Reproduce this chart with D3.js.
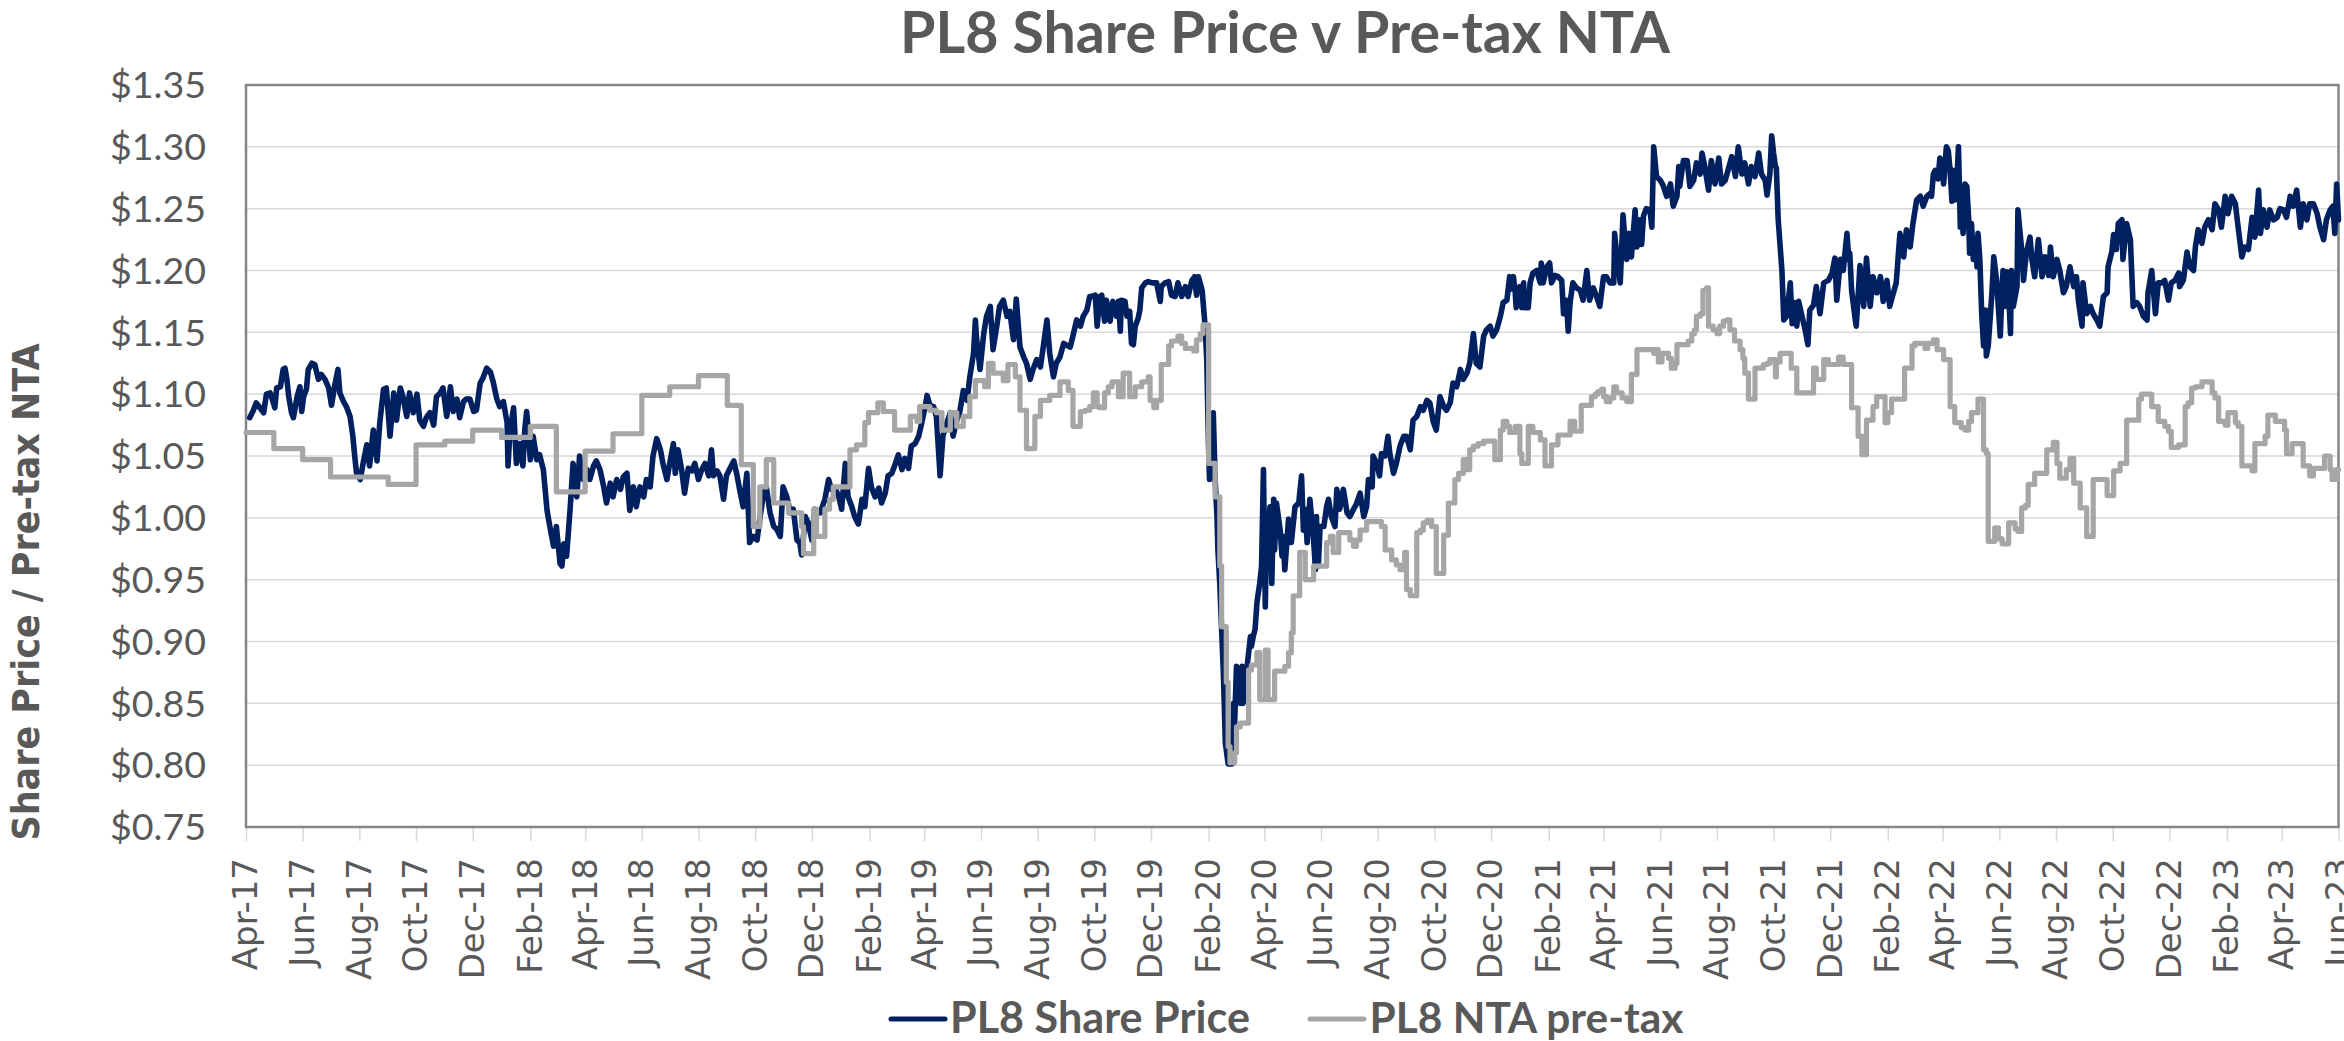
<!DOCTYPE html>
<html>
<head>
<meta charset="utf-8">
<script src="https://cdn.jsdelivr.net/npm/d3@7"></script>
<style>
  html, body { margin: 0; padding: 0; background: #ffffff; }
  svg { display: block; }
</style>
</head>
<body>
<svg id="chart" width="2344" height="1041"></svg>
<script>
// ---------------- DATA ----------------
const chartTitle = "PL8 Share Price v Pre-tax NTA";
const yAxisTitle = "Share Price / Pre-tax NTA";
const seriesNames = ["PL8 Share Price", "PL8 NTA pre-tax"];
const yTicks = [0.75, 0.80, 0.85, 0.90, 0.95, 1.00, 1.05, 1.10, 1.15, 1.20, 1.25, 1.30, 1.35];
const xTickLabels = ["Apr-17","Jun-17","Aug-17","Oct-17","Dec-17","Feb-18","Apr-18","Jun-18","Aug-18","Oct-18",
  "Dec-18","Feb-19","Apr-19","Jun-19","Aug-19","Oct-19","Dec-19","Feb-20","Apr-20","Jun-20","Aug-20","Oct-20",
  "Dec-20","Feb-21","Apr-21","Jun-21","Aug-21","Oct-21","Dec-21","Feb-22","Apr-22","Jun-22","Aug-22","Oct-22",
  "Dec-22","Feb-23","Apr-23","Jun-23"];
const startDate = "2017-04-01";   // day 0 of the series below

// [calendar days since startDate, share price]
const priceData = [
[4,1.081],[8,1.087],[11,1.093],[15,1.089],[19,1.085],[22,1.100],[26,1.101],[29,1.094],[31,1.089],[33,1.105],
[37,1.106],[40,1.120],[42,1.121],[44,1.112],[46,1.098],[49,1.085],[51,1.081],[55,1.098],[58,1.106],[60,1.086],
[62,1.098],[65,1.104],[67,1.120],[71,1.125],[74,1.124],[78,1.112],[81,1.116],[85,1.112],[89,1.105],[92,1.091],
[96,1.109],[99,1.120],[101,1.101],[105,1.094],[108,1.090],[112,1.082],[115,1.066],[117,1.050],[119,1.036],[123,1.031],
[126,1.044],[130,1.059],[133,1.042],[137,1.071],[141,1.046],[144,1.077],[148,1.104],[151,1.105],[155,1.066],[159,1.101],
[162,1.079],[166,1.105],[169,1.098],[173,1.082],[176,1.101],[180,1.085],[184,1.100],[187,1.079],[191,1.074],[194,1.081],
[198,1.085],[202,1.075],[205,1.098],[209,1.101],[212,1.105],[216,1.082],[220,1.106],[223,1.086],[227,1.096],[230,1.081],
[234,1.094],[237,1.096],[241,1.096],[245,1.086],[248,1.087],[252,1.109],[255,1.113],[259,1.121],[263,1.118],[266,1.110],
[270,1.096],[273,1.090],[277,1.094],[281,1.077],[282,1.042],[284,1.069],[288,1.089],[291,1.044],[295,1.060],[298,1.042],
[300,1.071],[302,1.086],[304,1.069],[306,1.047],[309,1.066],[313,1.047],[316,1.051],[320,1.039],[324,1.006],[327,0.993],
[331,0.977],[334,0.993],[338,0.963],[340,0.961],[342,0.979],[345,0.969],[349,1.009],[352,1.044],[354,1.028],[356,1.017],
[359,1.050],[363,1.031],[367,1.039],[370,1.031],[374,1.042],[377,1.046],[381,1.039],[385,1.025],[388,1.012],[392,1.028],
[395,1.017],[399,1.031],[403,1.023],[406,1.033],[410,1.036],[413,1.006],[417,1.025],[420,1.009],[424,1.025],[428,1.017],
[431,1.031],[435,1.025],[438,1.050],[442,1.064],[446,1.055],[449,1.043],[453,1.031],[456,1.044],
[460,1.060],[462,1.036],[465,1.055],[469,1.038],[472,1.020],[476,1.040],[480,1.038],[483,1.044],[487,1.031],[490,1.038],
[494,1.044],[498,1.034],[501,1.055],[503,1.034],[507,1.038],[510,1.034],[514,1.015],[517,1.034],[521,1.040],[525,1.046],
[528,1.036],[532,1.020],[535,1.009],[539,1.036],[542,0.980],[546,0.985],[550,0.982],[553,0.999],[557,1.020],[560,1.025],
[564,1.004],[568,0.993],[571,0.991],[575,0.985],[578,1.025],[582,1.017],[586,1.004],[589,1.007],[593,0.982],[596,0.980],
[598,0.970],[602,1.001],[605,0.996],[609,0.982],[612,1.007],[618,1.004],[623,1.015],[627,1.031],[630,1.023],[634,1.024],
[638,1.017],[641,1.007],[645,1.044],[648,1.017],[652,1.009],[655,1.001],[659,0.995],[663,1.015],[666,1.009],[670,1.040],
[673,1.025],[677,1.017],[681,1.024],[684,1.012],[688,1.020],[691,1.034],[695,1.036],[698,1.042],[702,1.051],[706,1.039],
[709,1.048],[713,1.040],[716,1.058],[720,1.060],[724,1.066],[727,1.076],[731,1.090],[733,1.099],[736,1.091],[740,1.090],
[743,1.082],[747,1.034],[750,1.066],[754,1.076],[758,1.085],[761,1.066],[765,1.079],[768,1.085],[772,1.103],[776,1.095],
[779,1.114],[783,1.133],[785,1.160],[786,1.147],[790,1.120],[794,1.149],[797,1.163],[801,1.171],[804,1.136],[808,1.155],
[811,1.171],[815,1.176],[819,1.163],[822,1.167],[826,1.144],[829,1.177],[833,1.138],[837,1.130],[840,1.125],[844,1.112],
[847,1.120],[851,1.128],[855,1.122],[858,1.138],[862,1.160],[865,1.133],[869,1.114],[872,1.125],[876,1.130],[880,1.141],
[887,1.138],[890,1.147],[894,1.160],[898,1.155],[901,1.163],[905,1.168],[908,1.179],
[910,1.179],[914,1.180],[916,1.155],[919,1.179],[921,1.180],[924,1.159],[926,1.176],[930,1.159],[933,1.175],[937,1.163],
[939,1.175],[941,1.151],[942,1.176],[946,1.175],[948,1.163],[951,1.167],[953,1.141],[955,1.140],[957,1.155],[960,1.161],
[962,1.168],[964,1.186],[968,1.190],[971,1.191],[975,1.190],[980,1.190],[984,1.175],[985,1.187],[989,1.190],[993,1.191],
[996,1.180],[1000,1.179],[1003,1.190],[1007,1.179],[1011,1.187],[1014,1.179],[1018,1.192],[1021,1.195],[1023,1.180],[1025,1.195],
[1029,1.184],[1032,1.157],[1034,1.128],[1036,1.055],[1037,1.031],[1039,1.050],[1041,1.085],[1043,1.031],[1045,1.001],[1046,0.974],
[1048,0.947],[1050,0.910],[1052,0.872],[1054,0.818],[1057,0.801],[1061,0.801],[1063,0.850],[1064,0.834],[1066,0.880],[1070,0.850],
[1072,0.880],[1073,0.850],[1077,0.877],[1081,0.904],[1082,0.896],[1084,0.904],[1086,0.910],[1088,0.931],[1089,0.937],[1091,0.947],
[1093,0.961],[1095,1.039],[1097,0.928],[1098,0.974],[1102,1.009],[1104,0.947],[1106,1.015],[1107,0.974],[1109,1.012],[1113,0.990],
[1115,0.969],[1116,0.985],[1118,0.958],[1122,0.999],[1125,0.980],[1129,1.009],[1133,1.012],[1136,1.034],[1138,0.990],[1140,1.007],
[1142,0.980],[1145,1.015],[1149,0.982],[1151,0.958],[1152,1.001],[1154,0.961],[1156,0.993],[1160,0.993],[1163,1.009],[1165,1.015],
[1168,1.001],[1172,0.993],[1174,1.023],[1177,1.007],[1181,1.023],[1185,1.004],[1188,1.001],[1192,1.007],[1195,1.011],[1199,1.020],
[1203,1.001],[1206,1.009],[1208,1.031],[1212,1.025],[1213,1.050],[1217,1.044],[1220,1.034],[1222,1.052],[1226,1.050],[1229,1.066],
[1231,1.052],[1235,1.036],[1238,1.044],[1242,1.058],[1246,1.066],[1249,1.066],[1253,1.055],[1256,1.079],[1260,1.082],[1264,1.090],
[1267,1.087],[1271,1.095],[1274,1.093],[1278,1.077],[1281,1.071],[1285,1.098],[1289,1.090],[1292,1.087],[1296,1.093],[1299,1.109],
[1303,1.106],[1307,1.120],[1310,1.112],[1314,1.117],[1317,1.125],[1321,1.149],[1324,1.125],[1328,1.122],[1332,1.147],[1335,1.152],
[1339,1.155],[1342,1.147],[1346,1.152],[1350,1.163],[1353,1.174],[1357,1.176],[1360,1.195],
[1362,1.185],[1364,1.195],[1366,1.182],[1367,1.170],[1371,1.187],[1373,1.170],[1375,1.190],[1376,1.170],[1380,1.170],[1382,1.190],
[1385,1.198],[1389,1.200],[1393,1.190],[1394,1.206],[1396,1.190],[1400,1.203],[1403,1.206],[1405,1.190],[1409,1.196],[1412,1.195],
[1416,1.192],[1418,1.165],[1421,1.176],[1423,1.151],[1425,1.174],[1428,1.190],[1432,1.186],[1436,1.184],[1439,1.176],[1443,1.200],
[1446,1.176],[1450,1.186],[1454,1.178],[1457,1.171],[1461,1.195],[1464,1.195],[1468,1.190],[1472,1.190],[1473,1.230],[1475,1.214],
[1479,1.190],[1482,1.245],[1484,1.225],[1486,1.209],[1488,1.230],[1491,1.211],[1495,1.249],[1497,1.219],[1500,1.241],[1502,1.221],
[1504,1.244],[1507,1.250],[1511,1.249],[1513,1.235],[1515,1.300],[1518,1.276],[1522,1.273],[1525,1.269],[1529,1.260],[1533,1.270],
[1536,1.252],[1540,1.260],[1542,1.284],[1543,1.268],[1547,1.289],[1551,1.289],[1554,1.268],[1558,1.273],[1561,1.287],[1565,1.278],
[1567,1.295],[1570,1.284],[1574,1.265],[1577,1.289],[1581,1.270],[1585,1.291],[1588,1.270],[1592,1.273],[1595,1.281],[1599,1.292],
[1603,1.276],[1606,1.300],[1610,1.278],[1613,1.287],[1617,1.270],[1620,1.284],[1624,1.276],[1628,1.295],[1631,1.278],[1635,1.273],
[1637,1.261],[1640,1.278],[1642,1.309],[1644,1.295],[1646,1.284],[1647,1.283],[1649,1.241],[1653,1.200],[1655,1.160],[1658,1.163],
[1662,1.190],[1664,1.157],[1667,1.174],[1669,1.155],[1671,1.175],[1674,1.165],[1678,1.152],[1681,1.140],[1683,1.168],[1687,1.172],
[1690,1.187],[1694,1.165],[1698,1.190],[1703,1.192],[1707,1.198],[1710,1.210],[1712,1.176],[1716,1.209],[1719,1.200],[1723,1.230],
[1725,1.209],[1726,1.214],[1728,1.184],[1732,1.160],[1733,1.155],[1737,1.204],[1741,1.171],[1744,1.210],[1748,1.171],[1751,1.195],
[1755,1.182],[1759,1.195],[1762,1.175],[1766,1.192],[1769,1.171],[1773,1.182],[1776,1.190],[1780,1.230],[1784,1.211],[1787,1.233],
[1791,1.219],[1794,1.238],[1798,1.257],[1802,1.260],[1805,1.252],[1809,1.260],[1812,1.262],
[1814,1.260],[1816,1.278],[1818,1.281],[1821,1.274],[1823,1.291],[1825,1.287],[1827,1.270],[1830,1.300],[1832,1.297],[1834,1.281],
[1836,1.256],[1837,1.281],[1839,1.257],[1841,1.268],[1843,1.300],[1845,1.235],[1846,1.254],[1848,1.230],[1850,1.270],[1852,1.268],
[1854,1.241],[1855,1.214],[1857,1.238],[1859,1.209],[1861,1.225],[1863,1.203],[1864,1.230],[1866,1.209],[1868,1.165],[1870,1.139],
[1872,1.168],[1873,1.131],[1875,1.139],[1877,1.160],[1879,1.182],[1881,1.211],[1884,1.192],[1888,1.147],[1890,1.187],[1891,1.200],
[1893,1.171],[1895,1.199],[1897,1.182],[1899,1.149],[1900,1.200],[1902,1.171],[1906,1.187],[1907,1.249],[1911,1.217],[1913,1.192],
[1916,1.214],[1920,1.227],[1922,1.209],[1925,1.195],[1929,1.225],[1933,1.195],[1936,1.211],[1940,1.196],[1942,1.219],[1945,1.195],
[1949,1.209],[1952,1.200],[1956,1.182],[1959,1.187],[1963,1.203],[1967,1.187],[1970,1.195],[1972,1.176],[1976,1.155],[1977,1.190],
[1981,1.165],[1985,1.171],[1988,1.165],[1992,1.160],[1995,1.155],[1999,1.179],[2003,1.182],[2004,1.203],[2008,1.215],[2010,1.229],
[2013,1.217],[2015,1.238],[2019,1.241],[2020,1.209],[2024,1.238],[2028,1.225],[2031,1.171],[2035,1.174],[2038,1.171],[2042,1.163],
[2046,1.160],[2047,1.182],[2051,1.200],[2055,1.165],[2058,1.190],[2062,1.190],[2065,1.192],[2069,1.176],[2072,1.190],[2076,1.192],
[2080,1.198],[2081,1.187],[2085,1.192],[2089,1.215],[2092,1.203],[2096,1.200],[2098,1.219],[2101,1.233],[2105,1.222],[2108,1.235],
[2112,1.241],[2116,1.233],[2119,1.254],[2123,1.249],[2126,1.235],[2130,1.260],[2133,1.246],[2137,1.260],[2141,1.254],[2144,1.235],
[2148,1.211],[2151,1.219],[2155,1.217],[2159,1.243],[2162,1.227],[2166,1.265],[2168,1.230],[2171,1.249],[2175,1.235],[2178,1.249],
[2182,1.241],[2186,1.243],[2189,1.250],[2193,1.249],[2196,1.243],[2200,1.260],[2203,1.252],[2207,1.265],[2211,1.235],[2214,1.254],
[2218,1.241],[2221,1.254],[2225,1.254],[2229,1.246],[2232,1.235],[2236,1.225],[2239,1.241],[2243,1.249],[2246,1.252],[2248,1.230],
[2250,1.270],[2252,1.241]
];

// [calendar days since startDate, NTA pre-tax] (value holds until next entry)
const ntaData = [
[0,1.069],[30,1.056],[61,1.047],[91,1.033],[153,1.027],[183,1.059],[214,1.062],[244,1.071],[275,1.065],[306,1.074],
[334,1.021],[365,1.054],[395,1.068],[426,1.099],[456,1.106],[487,1.115],[518,1.091],[533,1.043],[546,0.993],[553,1.025],
[560,1.047],[568,1.012],[584,1.004],[598,0.993],[600,0.971],[611,1.007],[614,0.985],[623,1.007],[628,1.015],[632,1.025],
[650,1.055],[657,1.059],[666,1.077],[670,1.085],[680,1.093],[686,1.086],[698,1.071],[715,1.082],[722,1.078],[725,1.090],
[736,1.087],[743,1.085],[749,1.071],[758,1.085],[765,1.074],[772,1.082],[779,1.098],[785,1.111],[795,1.106],[799,1.125],
[804,1.117],[815,1.111],[820,1.124],[828,1.114],[833,1.087],[840,1.056],[849,1.082],[855,1.095],[865,1.099],[876,1.110],
[885,1.103],[890,1.074],[898,1.086],
[903,1.087],[908,1.090],[912,1.101],[916,1.090],[919,1.089],[924,1.101],[928,1.106],[932,1.110],[939,1.098],[944,1.117],
[951,1.098],[957,1.106],[964,1.110],[971,1.114],[973,1.095],[977,1.089],[980,1.095],[985,1.124],[993,1.139],[996,1.143],
[1003,1.147],[1007,1.141],[1011,1.137],[1020,1.135],[1023,1.144],[1027,1.149],[1030,1.156],[1036,1.044],[1043,1.017],[1048,0.961],
[1050,0.912],[1055,0.867],[1057,0.815],[1059,0.802],[1064,0.810],[1066,0.831],[1070,0.834],[1079,0.877],[1082,0.881],[1088,0.891],
[1091,0.853],[1097,0.893],[1100,0.853],[1107,0.876],[1118,0.880],[1122,0.891],[1125,0.907],[1127,0.937],[1134,0.972],[1140,0.950],
[1149,0.961],[1163,0.980],[1167,0.985],[1170,0.972],[1176,0.988],[1188,0.982],[1192,0.977],[1195,0.982],[1199,0.990],[1206,0.997],
[1222,0.993],[1226,0.974],[1233,0.966],[1238,0.962],[1242,0.958],[1247,0.972],[1249,0.942],[1253,0.937],[1260,0.988],[1264,0.990],
[1267,0.996],[1271,0.998],[1276,0.993],[1281,0.955],[1289,0.986],[1294,1.012],[1301,1.031],[1305,1.036],[1310,1.047],[1314,1.039],
[1317,1.055],[1321,1.058],[1326,1.060],[1332,1.062],[1344,1.047],[1350,1.071],[1353,1.078],
[1357,1.074],[1360,1.069],[1366,1.074],[1371,1.052],[1373,1.044],[1380,1.074],[1385,1.069],[1393,1.063],[1398,1.042],
[1405,1.059],[1412,1.067],[1425,1.078],[1430,1.070],[1437,1.091],[1448,1.098],[1452,1.100],[1455,1.102],[1459,1.104],[1461,1.098],
[1464,1.094],[1468,1.097],[1472,1.106],[1475,1.101],[1481,1.097],[1486,1.094],[1491,1.116],[1497,1.136],[1515,1.133],[1516,1.136],
[1520,1.126],[1524,1.133],[1531,1.129],[1534,1.121],[1538,1.125],[1540,1.140],[1552,1.143],[1556,1.149],[1559,1.152],[1561,1.163],
[1565,1.165],[1568,1.184],[1572,1.186],[1574,1.155],[1579,1.152],[1583,1.149],[1586,1.155],[1590,1.159],[1594,1.160],[1597,1.152],
[1602,1.143],[1608,1.136],[1611,1.129],[1613,1.117],[1617,1.096],[1624,1.121],[1633,1.124],[1637,1.125],[1640,1.128],[1646,1.114],
[1647,1.126],[1651,1.133],[1663,1.121],[1669,1.101],[1687,1.121],[1690,1.112],[1698,1.128],[1703,1.124],[1714,1.130],[1719,1.124],
[1728,1.089],[1735,1.066],[1739,1.051],[1744,1.079],[1751,1.090],[1755,1.098],[1764,1.077],[1767,1.085],[1771,1.096],[1785,1.121],
[1793,1.139],[1796,1.141],[1807,1.137],[1810,1.141],
[1816,1.144],[1820,1.136],[1827,1.128],[1834,1.090],[1839,1.077],[1846,1.073],[1850,1.071],[1854,1.078],[1857,1.085],[1864,1.096],
[1870,1.055],[1873,1.052],[1875,0.981],[1882,0.992],[1886,0.983],[1890,0.979],[1897,0.996],[1904,0.991],[1907,0.989],[1911,1.008],
[1915,1.010],[1918,1.027],[1925,1.036],[1938,1.055],[1945,1.061],[1949,1.044],[1952,1.032],[1959,1.039],[1963,1.048],[1967,1.028],
[1974,1.008],[1981,0.985],[1988,1.031],[2003,1.018],[2010,1.038],[2017,1.044],[2024,1.079],[2037,1.096],[2040,1.100],[2051,1.090],
[2058,1.078],[2065,1.074],[2069,1.070],[2072,1.057],[2080,1.059],[2087,1.090],[2090,1.093],[2094,1.105],[2098,1.106],[2105,1.110],
[2116,1.101],[2119,1.097],[2123,1.078],[2130,1.075],[2133,1.085],[2141,1.077],[2144,1.074],[2148,1.042],[2159,1.038],[2162,1.060],
[2173,1.066],[2176,1.083],[2184,1.078],[2194,1.071],[2196,1.052],[2202,1.060],[2214,1.042],[2221,1.034],[2225,1.040],[2237,1.050],
[2243,1.039],[2245,1.031],[2250,1.039],[2252,1.039]
];

// ---------------- LAYOUT / STYLE ----------------
const W = 2344, H = 1041;
const plot = { left: 246, right: 2338.5, top: 85, bottom: 827 };
const textColor = "#595959";
const priceColor = "#002060";
const ntaColor = "#a6a6a6";
const calibriLike = "Lato, 'Open Sans', 'DejaVu Sans', sans-serif";

const svg = d3.select("#chart");
svg.append("rect").attr("width", W).attr("height", H).attr("fill", "#ffffff");

const parseMonth = d3.timeParse("%b-%y");
const start = d3.timeParse("%Y-%m-%d")(startDate);
const toDate = d => d3.timeDay.offset(start, d);

const x = d3.scaleTime()
  .domain([parseMonth(xTickLabels[0]), parseMonth(xTickLabels[xTickLabels.length - 1])])
  .range([plot.left, plot.right]);
const y = d3.scaleLinear()
  .domain([yTicks[0], yTicks[yTicks.length - 1]])
  .range([plot.bottom, plot.top]);

function fitWidth(sel, target) {
  const w = sel.node().getComputedTextLength();
  const fs = parseFloat(sel.attr("font-size"));
  if (w > 0) sel.attr("font-size", (fs * target / w).toFixed(2));
}

// gridlines
svg.append("g").selectAll("line")
  .data(yTicks.slice(1, -1)).join("line")
  .attr("x1", plot.left).attr("x2", plot.right)
  .attr("y1", d => y(d)).attr("y2", d => y(d))
  .attr("stroke", "#d9d9d9").attr("stroke-width", 1.5);

// y axis labels
const gy = svg.append("g")
  .attr("transform", `translate(${plot.left},0)`)
  .call(d3.axisLeft(y).tickValues(yTicks).tickFormat(d3.format("$.2f")).tickSize(0).tickPadding(40));
gy.select(".domain").remove();
gy.attr("font-family", calibriLike).attr("font-size", 36);
gy.selectAll(".tick text").attr("fill", textColor).attr("dy", "0.34em");
{
  const first = gy.select(".tick:last-of-type text");
  const w = first.node().getComputedTextLength();
  gy.attr("font-size", (36 * 96 / w).toFixed(2));
}

// x axis
const gx = svg.append("g")
  .attr("transform", `translate(0,${plot.bottom})`)
  .call(d3.axisBottom(x).tickValues(xTickLabels.map(parseMonth))
    .tickFormat(d3.timeFormat("%b-%y")).tickSize(14).tickSizeOuter(0));
gx.select(".domain").remove();
gx.attr("font-family", "'DejaVu Sans', Verdana, sans-serif").attr("font-size", 34);
gx.selectAll(".tick line").attr("stroke", "#d9d9d9").attr("stroke-width", 1.5);
gx.selectAll(".tick text")
  .attr("fill", textColor)
  .attr("transform", "rotate(-90)")
  .attr("text-anchor", "end")
  .attr("x", -31).attr("y", 0).attr("dy", "0.32em");

// plot border
svg.append("rect")
  .attr("x", plot.left).attr("y", plot.top)
  .attr("width", plot.right - plot.left).attr("height", plot.bottom - plot.top)
  .attr("fill", "none").attr("stroke", "#868686").attr("stroke-width", 2.5);

// series
const priceLine = d3.line().x(d => x(toDate(d[0]))).y(d => y(d[1]));
const ntaLine = d3.line().curve(d3.curveStepAfter).x(d => x(toDate(d[0]))).y(d => y(d[1]));

svg.append("path").datum(priceData)
  .attr("d", priceLine).attr("fill", "none")
  .attr("stroke", priceColor).attr("stroke-width", 5.6)
  .attr("stroke-linejoin", "round").attr("stroke-linecap", "round");

svg.append("path").datum(ntaData)
  .attr("d", ntaLine).attr("fill", "none")
  .attr("stroke", ntaColor).attr("stroke-width", 5.2)
  .attr("stroke-linejoin", "round").attr("stroke-linecap", "round");

// title
const title = svg.append("text")
  .attr("x", 1285).attr("y", 53)
  .attr("text-anchor", "middle")
  .attr("font-family", calibriLike).attr("font-weight", "bold")
  .attr("font-size", 54).attr("fill", textColor)
  .text(chartTitle);
fitWidth(title, 770);

// y axis title
const yTitle = svg.append("text")
  .attr("transform", "translate(39,592) rotate(-90)")
  .attr("text-anchor", "middle")
  .attr("font-family", "'DejaVu Sans', Verdana, sans-serif").attr("font-weight", "bold")
  .attr("font-size", 37).attr("fill", textColor)
  .text(yAxisTitle);
{
  const w = yTitle.node().getComputedTextLength();
  if (w > 497) yTitle.attr("textLength", 497).attr("lengthAdjust", "spacingAndGlyphs");
}

// legend
const legendItems = [
  { name: seriesNames[0], color: priceColor, x1: 891, x2: 945, tx: 950, tw: 300 },
  { name: seriesNames[1], color: ntaColor, x1: 1310, x2: 1364, tx: 1369.5, tw: 314 }
];
const lg = svg.append("g");
legendItems.forEach(it => {
  lg.append("line")
    .attr("x1", it.x1).attr("x2", it.x2).attr("y1", 1019).attr("y2", 1019)
    .attr("stroke", it.color).attr("stroke-width", 5).attr("stroke-linecap", "round");
  const t = lg.append("text")
    .attr("x", it.tx).attr("y", 1033)
    .attr("font-family", calibriLike).attr("font-weight", "bold")
    .attr("font-size", 42).attr("fill", textColor)
    .text(it.name);
  fitWidth(t, it.tw);
});
</script>
</body>
</html>
